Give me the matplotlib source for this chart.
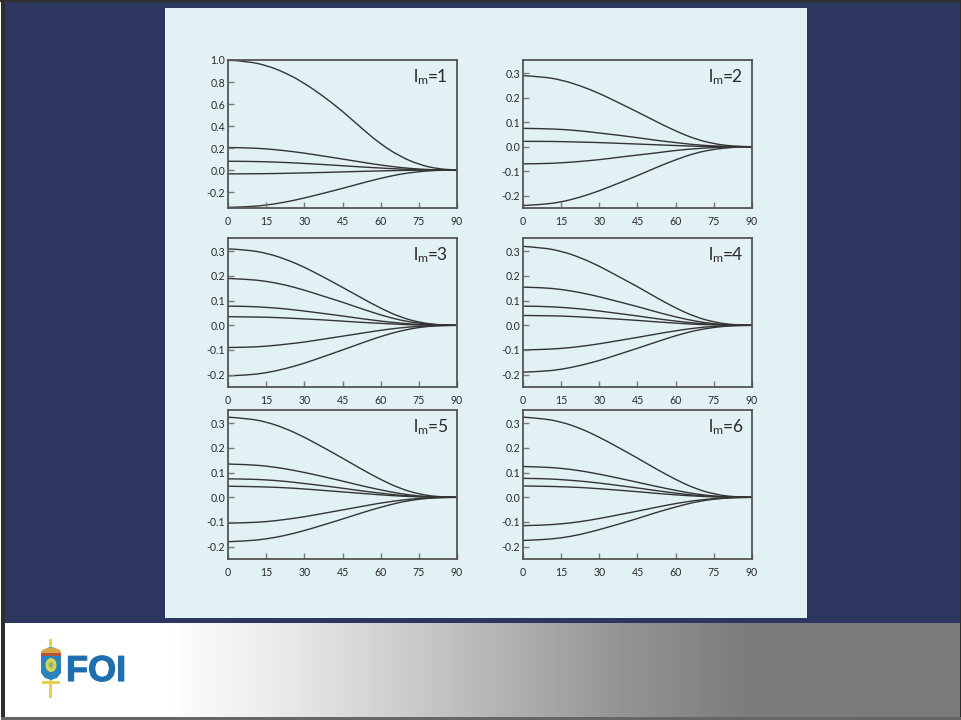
import numpy as np
import matplotlib
matplotlib.use("Agg")
import matplotlib.pyplot as plt
import matplotlib.patheffects as pe
from matplotlib.patches import Rectangle, Ellipse, Polygon, PathPatch
from matplotlib.path import Path
from matplotlib.ticker import FormatStrFormatter

plt.rcParams['font.family'] = ['Lato', 'DejaVu Sans']
plt.rcParams['mathtext.default'] = 'regular'

W, H = 962, 720

# colatitude grid, same for all curves
theta = [0, 7.5, 15, 22.5, 30, 37.5, 45, 52.5, 60, 67.5, 75, 82.5, 90]

lm1 = [
    [1.0, .988, .952, .885, .79, .67, .535, .38, .235, .125, .05, .01, 0],
    [.205, .202, .193, .176, .154, .127, .100, .072, .045, .023, .008, .001, 0],
    [.08, .079, .075, .069, .06, .05, .039, .028, .018, .009, .003, .001, 0],
    [-.035, -.034, -.033, -.03, -.026, -.022, -.017, -.012, -.008, -.004, -.001, 0, 0],
    [-.34, -.335, -.32, -.292, -.255, -.211, -.167, -.119, -.075, -.037, -.014, -.002, 0],
]
lm2 = [
    [.29, .286, .273, .249, .218, .180, .142, .102, .064, .032, .012, .002, 0],
    [.075, .074, .071, .065, .056, .047, .037, .026, .017, .008, .003, .001, 0],
    [.022, .022, .021, .019, .017, .014, .011, .008, .005, .002, .001, 0, 0],
    [-.07, -.069, -.066, -.06, -.053, -.043, -.034, -.025, -.015, -.008, -.003, 0, 0],
    [-.24, -.236, -.226, -.206, -.18, -.149, -.118, -.084, -.053, -.026, -.01, -.002, 0],
]
lm3 = [
    [.31, .306, .293, .269, .236, .196, .154, .111, .069, .034, .012, .002, 0],
    [.19, .187, .179, .164, .143, .118, .094, .067, .042, .021, .008, .001, 0],
    [.078, .077, .073, .067, .058, .048, .038, .027, .017, .009, .003, .001, 0],
    [.035, .034, .033, .03, .026, .022, .017, .012, .008, .004, .001, 0, 0],
    [-.09, -.089, -.085, -.077, -.068, -.056, -.044, -.032, -.02, -.01, -.004, -.001, 0],
    [-.205, -.202, -.193, -.176, -.154, -.127, -.1, -.072, -.045, -.023, -.008, -.001, 0],
]
lm4 = [
    [.32, .315, .301, .275, .24, .198, .157, .112, .07, .035, .013, .002, 0],
    [.155, .153, .146, .133, .116, .096, .076, .054, .034, .017, .006, .001, 0],
    [.078, .077, .073, .067, .058, .048, .038, .027, .017, .009, .003, .001, 0],
    [.04, .039, .038, .034, .03, .025, .02, .014, .009, .004, .002, 0, 0],
    [-.1, -.098, -.094, -.086, -.075, -.062, -.049, -.035, -.022, -.011, -.004, -.001, 0],
    [-.19, -.187, -.179, -.163, -.143, -.118, -.093, -.067, -.042, -.021, -.008, -.001, 0],
]
lm5 = [
    [.325, .32, .306, .28, .244, .202, .159, .114, .072, .036, .013, .002, 0],
    [.135, .133, .127, .116, .101, .084, .066, .047, .03, .015, .005, .001, 0],
    [.075, .074, .071, .065, .056, .047, .037, .026, .017, .008, .003, .001, 0],
    [.045, .044, .042, .039, .034, .028, .022, .016, .01, .005, .002, 0, 0],
    [-.105, -.103, -.099, -.09, -.079, -.065, -.051, -.037, -.023, -.012, -.004, -.001, 0],
    [-.18, -.177, -.169, -.155, -.135, -.112, -.088, -.063, -.04, -.02, -.007, -.001, 0],
]
lm6 = [
    [.325, .32, .306, .28, .244, .202, .159, .114, .072, .036, .013, .002, 0],
    [.125, .123, .118, .108, .094, .078, .061, .044, .028, .014, .005, .001, 0],
    [.077, .076, .072, .066, .058, .048, .038, .027, .017, .008, .003, .001, 0],
    [.046, .045, .043, .04, .035, .029, .023, .016, .01, .005, .002, 0, 0],
    [-.115, -.113, -.108, -.099, -.086, -.071, -.056, -.04, -.025, -.013, -.005, -.001, 0],
    [-.175, -.172, -.165, -.151, -.131, -.109, -.086, -.061, -.039, -.019, -.007, -.001, 0],
]

panels = [lm1, lm2, lm3, lm4, lm5, lm6]
panel_labels = ['1', '2', '3', '4', '5', '6']
x_ticks = [0, 15, 30, 45, 60, 75, 90]
y_ticks_first = [-0.2, 0.0, 0.2, 0.4, 0.6, 0.8, 1.0]
y_ticks_rest = [-0.2, -0.1, 0.0, 0.1, 0.2, 0.3]

# left, right, top, bottom in pixels
boxes = [(228, 457, 60, 208), (523, 752, 60, 208),
         (228, 457, 238, 387), (523, 752, 238, 387),
         (228, 457, 410, 559), (523, 752, 410, 559)]

NAVY = '#2d365e'
PALE = '#e1f1f4'
INK = '#2a2a2a'
BLUE = '#1f6fb0'
GOLD = '#e6d24f'


def smooth_path(xs, ys):
    # quadratic bezier with the read values as control points, so no kinks
    pts = list(zip(xs, ys))
    verts = [pts[0]]
    codes = [Path.MOVETO]
    for j in range(1, len(pts) - 1):
        mid = ((pts[j][0] + pts[j + 1][0]) / 2, (pts[j][1] + pts[j + 1][1]) / 2)
        verts += [pts[j], mid]
        codes += [Path.CURVE3, Path.CURVE3]
    verts.append(pts[-1])
    codes.append(Path.LINETO)
    return Path(verts, codes)


fig = plt.figure(figsize=(W / 100, H / 100), dpi=100, facecolor='white')

# slide background in pixel coordinates
bg = fig.add_axes([0, 0, 1, 1])
bg.axis('off')
bg.add_patch(Rectangle((0, 0), W, 623, color=NAVY, lw=0))
bg.add_patch(Rectangle((165, 8), 642, 610, color=PALE, lw=0))
ramp = np.interp(np.arange(W), [0, 170, 186, 254, 357, 481, 616, 746, 961],
                 [255, 255, 250, 239, 216, 184, 149, 124, 123])
bg.imshow(np.tile(ramp, (97, 1)), cmap='gray', vmin=0, vmax=255, aspect='auto',
          extent=(0, W, 720, 623), zorder=1)
bg.set_xlim(0, W)
bg.set_ylim(H, 0)
bg.add_patch(Rectangle((1, 0), 4, H, color='#2e2e2e', lw=0, zorder=2))
bg.add_patch(Rectangle((0, 0), 1, H, color='white', lw=0, zorder=2))
bg.add_patch(Rectangle((960, 0), 2, H, color='#2e2e2e', lw=0, zorder=2))
bg.add_patch(Rectangle((0, 0), W, 2, color='#2e2e2e', lw=0, zorder=2))
bg.add_patch(Rectangle((1, 717), W, 3, color='#666666', lw=0, zorder=2))

# FOI logo
bg.add_patch(Rectangle((49.5, 639), 3, 59, color=GOLD, lw=0, zorder=3))
bg.add_patch(Rectangle((42, 681), 18, 3, color=GOLD, lw=0, zorder=3))
bg.add_patch(Ellipse((51, 649), 9, 4, color='#6a9fb5', lw=0, zorder=4))
bg.add_patch(Ellipse((51, 652), 20, 8, color='#d9a441', lw=0, zorder=4))
bg.add_patch(Rectangle((41, 653), 20, 2.5, color='#b5523b', lw=0, zorder=4))
bg.add_patch(Polygon([(41, 656), (61, 656), (61, 673), (57, 678), (51, 680), (45, 678), (41, 673)],
                     color='#2b83bd', lw=0, zorder=4))
bg.add_patch(Ellipse((51, 665), 11, 14, color='#d2d65a', lw=0, zorder=5))
bg.add_patch(Ellipse((51, 665), 5, 6, color='#8fb86a', lw=0, zorder=6))
bg.text(66, 681, 'FOI', family='Liberation Sans', weight='bold', fontsize=26,
        color=BLUE, va='baseline', ha='left', zorder=5,
        path_effects=[pe.withStroke(linewidth=0.8, foreground=BLUE)])

for i, curves in enumerate(panels):
    left, right, top, bottom = boxes[i]
    ax = fig.add_axes([left / W, 1 - bottom / H, (right - left) / W, (bottom - top) / H])
    ax.set_facecolor('none')
    for c in curves:
        ax.add_patch(PathPatch(smooth_path(theta, c), fill=False, edgecolor='#343434',
                               lw=1.0, capstyle='butt', clip_on=False))
    ax.set_xlim(0, 90)
    ax.set_xticks(x_ticks)
    if i == 0:
        ax.set_ylim(-0.345, 1.0)
        ax.set_yticks(y_ticks_first)
    else:
        ax.set_ylim(-0.25, 0.354)
        ax.set_yticks(y_ticks_rest)
    ax.yaxis.set_major_formatter(FormatStrFormatter('%.1f'))
    ax.tick_params(axis='both', direction='in', length=4.5, width=1.0, color='#7a7a7a',
                   labelsize=7.6, labelcolor=INK)
    ax.tick_params(axis='x', pad=5.5)
    ax.tick_params(axis='y', pad=2)
    for s in ax.spines.values():
        s.set_linewidth(1.3)
        s.set_color('#555555')
    ax.text(0.807, 0.85, r'l$_{m}$=', transform=ax.transAxes,
            fontsize=12.5, color=INK, ha='left', va='baseline')
    ax.text(0.955, 0.85, panel_labels[i], transform=ax.transAxes,
            fontsize=12.5, color=INK, ha='right', va='baseline')

fig.savefig('out.png', dpi=100)
